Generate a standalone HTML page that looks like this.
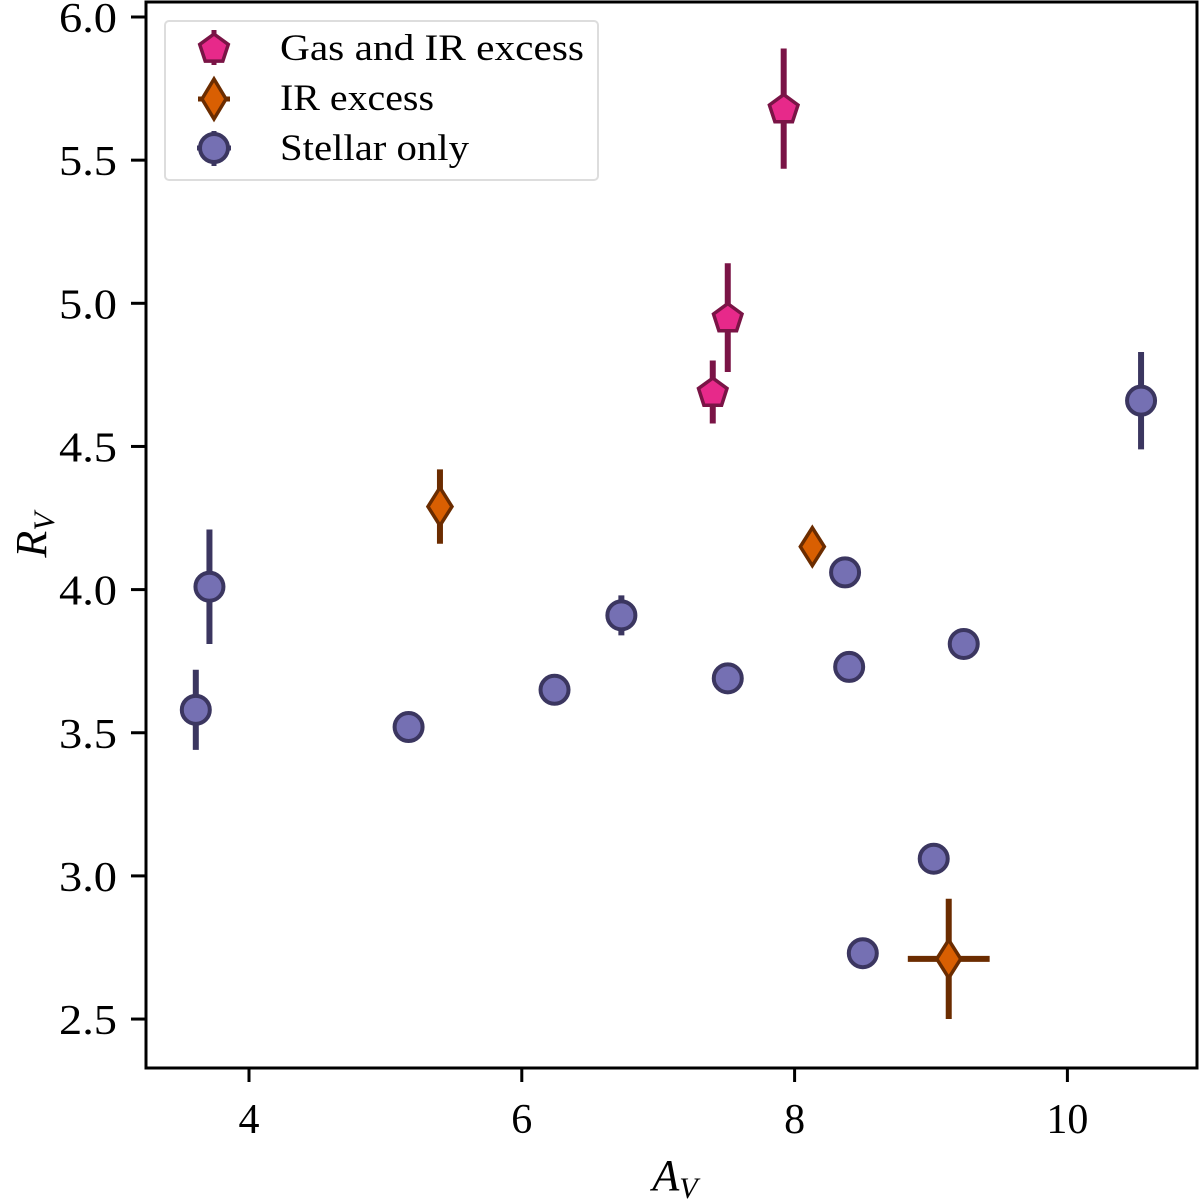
<!DOCTYPE html>
<html><head><meta charset="utf-8"><style>
body{margin:0;background:#fff;}
svg text{font-family:"Liberation Serif",serif;fill:#000;}
</style></head><body>
<svg id="chart" width="1200" height="1199" viewBox="0 0 1200 1199" xmlns="http://www.w3.org/2000/svg">
<g id="marks"></g>
<rect x="146" y="2" width="1051" height="1066" fill="none" stroke="#000" stroke-width="3"/>
<g id="ticks"></g>
<text x="675" y="1190" font-size="44" font-style="italic" text-anchor="middle">A<tspan font-size="30" dy="8">V</tspan></text>
<text transform="translate(46,535) rotate(-90)" font-size="44" font-style="italic" text-anchor="middle">R<tspan font-size="30" dy="8">V</tspan></text>
<g>
<rect x="165" y="21" width="433" height="159" rx="4" fill="#fff" stroke="#ddd" stroke-width="2"/>
<g id="legend"></g>
<text x="280" y="60" font-size="37" textLength="304" lengthAdjust="spacingAndGlyphs">Gas and IR excess</text>
<text x="280" y="110" font-size="37" textLength="154" lengthAdjust="spacingAndGlyphs">IR excess</text>
<text x="280" y="160" font-size="37" textLength="189" lengthAdjust="spacingAndGlyphs">Stellar only</text>
</g>
</svg>
<script>
const xTicks=[4,6,8,10];
const yTicks=[2.5,3.0,3.5,4.0,4.5,5.0,5.5,6.0];
const gasX=[7.92,7.51,7.40];
const gasY=[5.68,4.95,4.69];
const gasYerr=[0.21,0.19,0.11];
const irX=[5.40,8.13,9.13];
const irY=[4.29,4.15,2.71];
const irYerr=[0.13,0.0,0.21];
const irXerr=[0,0,0.30];
const stX=[3.71,3.61,5.17,6.24,6.73,7.51,8.37,8.40,9.24,9.02,8.50,10.54];
const stY=[4.01,3.58,3.52,3.65,3.91,3.69,4.06,3.73,3.81,3.06,2.73,4.66];
const stYerr=[0.20,0.14,0.02,0.02,0.07,0.05,0.02,0.05,0.05,0.02,0.02,0.17];

const NS="http://www.w3.org/2000/svg";
const X=v=>249+(v-4)*136.4;
const Y=v=>17+(6-v)*286.3;
const marks=document.getElementById('marks');
const ticks=document.getElementById('ticks');
const leg=document.getElementById('legend');
function mk(tag,attrs,parent){const e=document.createElementNS(NS,tag);for(const k in attrs)e.setAttribute(k,attrs[k]);parent.appendChild(e);return e;}

xTicks.forEach(t=>{
  const l=mk('line',{x1:X(t),x2:X(t),y1:1068,y2:1082,stroke:'#000','stroke-width':3},ticks);
  
  
  const tx=mk('text',{x:X(t),y:1133,'font-size':42,'text-anchor':'middle'},ticks);
  tx.textContent=t;
  
  
});
yTicks.forEach(t=>{
  const l=mk('line',{x1:131,x2:146,y1:Y(t),y2:Y(t),stroke:'#000','stroke-width':3},ticks);
  
  
  const tx=mk('text',{x:117,y:Y(t)+15,'font-size':42,'text-anchor':'end',textLength:58,lengthAdjust:'spacingAndGlyphs'},ticks);
  tx.textContent=t.toFixed(1);
  
  
});

function pent(cx,cy,r){let p=[];for(let i=0;i<5;i++){const a=-Math.PI/2+i*2*Math.PI/5;p.push((cx+r*Math.cos(a)).toFixed(1)+','+(cy+r*Math.sin(a)).toFixed(1));}return p.join(' ');}
function diam(cx,cy,w,h){return `${cx},${cy-h} ${cx+w},${cy} ${cx},${cy+h} ${cx-w},${cy}`;}
function err(x,y,ye,xe,col,g){
  if(ye>0){const l=mk('line',{x1:X(x),x2:X(x),y1:Y(y-ye),y2:Y(y+ye),stroke:col,'stroke-width':6},g);}
  if(xe>0){const l=mk('line',{x1:X(x-xe),x2:X(x+xe),y1:Y(y),y2:Y(y),stroke:col,'stroke-width':6},g);}
}
stX.forEach((x,i)=>{
  const g=mk('g',{},marks);
  
  
  err(x,stY[i],stYerr[i],0,'#3b3660',g);
  mk('circle',{cx:X(x),cy:Y(stY[i]),r:14,fill:'#7570b3',stroke:'#3b3660','stroke-width':4},g);
});
irX.forEach((x,i)=>{
  const g=mk('g',{},marks);
  
  
  err(x,irY[i],irYerr[i],irXerr[i],'#6b2c00',g);
  mk('polygon',{points:diam(X(x),Y(irY[i]),12,19),fill:'#d95f02',stroke:'#6b2c00','stroke-width':3.5},g);
});
gasX.forEach((x,i)=>{
  const g=mk('g',{},marks);
  
  
  err(x,gasY[i],gasYerr[i],0,'#7a1446',g);
  mk('polygon',{points:pent(X(x),Y(gasY[i])+1,15),fill:'#e7298a',stroke:'#7a1446','stroke-width':3.5},g);
});
const l1=mk('g',{},leg);
mk('line',{x1:214,x2:214,y1:30,y2:65,stroke:'#7a1446','stroke-width':5},l1);
mk('polygon',{points:pent(214,49,15),fill:'#e7298a',stroke:'#7a1446','stroke-width':3.5},l1);
const l2=mk('g',{},leg);
mk('line',{x1:198,x2:230,y1:99,y2:99,stroke:'#6b2c00','stroke-width':5},l2);
mk('polygon',{points:diam(214,99,12,20),fill:'#d95f02',stroke:'#6b2c00','stroke-width':3.5},l2);
const l3=mk('g',{},leg);
mk('line',{x1:214,x2:214,y1:131,y2:166,stroke:'#3b3660','stroke-width':5},l3);
mk('line',{x1:197,x2:231,y1:148,y2:148,stroke:'#3b3660','stroke-width':5},l3);
mk('circle',{cx:214,cy:148,r:14,fill:'#7570b3',stroke:'#3b3660','stroke-width':4},l3);
</script>
</body></html>
